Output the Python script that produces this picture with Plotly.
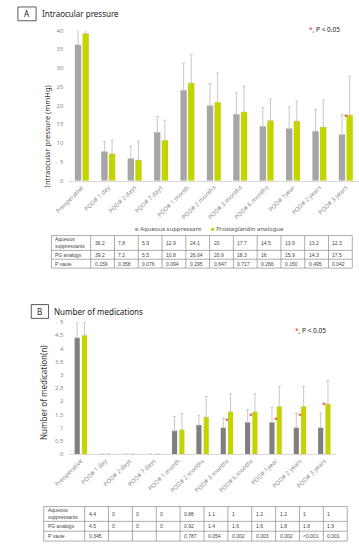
import plotly.graph_objects as go

W, H = 359, 550

categories = ["Preoperative", "POD# 1 day", "POD# 2 days", "POD# 7 days", "POD# 1 month",
              "POD# 2 months", "POD# 3 months", "POD# 6 months", "POD# 1year",
              "POD# 2 years", "POD# 3 years"]

# Panel A: intraocular pressure (mmHg)
iop_aqueous = [36.2, 7.8, 5.9, 12.9, 24.1, 20, 17.7, 14.5, 13.9, 13.2, 12.3]
iop_pg = [39.2, 7.2, 5.5, 10.8, 26.04, 20.9, 18.3, 16, 15.9, 14.3, 17.5]
iop_aqueous_sd = [4.0, 2.7, 3.3, 4.2, 7.2, 5.9, 5.7, 5.0, 5.8, 5.7, 5.3]
iop_pg_sd = [1.1, 3.6, 5.0, 5.3, 7.5, 7.8, 6.9, 5.7, 5.3, 7.2, 10.3]
iop_p = ["0.159", "0.358", "0.076", "0.094", "0.295", "0.647", "0.717", "0.266", "0.150", "0.495", "0.042"]
iop_aqueous_txt = ["36.2", "7.8", "5.9", "12.9", "24.1", "20", "17.7", "14.5", "13.9", "13.2", "12.3"]
iop_pg_txt = ["39.2", "7.2", "5.5", "10.8", "26.04", "20.9", "18.3", "16", "15.9", "14.3", "17.5"]
iop_sig = {"POD# 3 years": 17.7}

# Panel B: number of medications
med_aqueous = [4.4, 0, 0, 0, 0.88, 1.1, 1, 1.2, 1.2, 1, 1]
med_pg = [4.5, 0, 0, 0, 0.92, 1.4, 1.6, 1.6, 1.8, 1.8, 1.9]
med_aqueous_sd = [0.6, None, None, None, 0.54, 0.37, 0.37, 0.48, 0.57, 0.56, 0.56]
med_pg_sd = [0.5, None, None, None, 0.61, 0.78, 0.68, 0.68, 0.77, 0.77, 0.88]
med_p = ["0.345", "", "", "", "0.787", "0.054", "0.002", "0.003", "0.002", "<0.001", "0.001"]
med_aqueous_txt = ["4.4", "0", "0", "0", "0.88", "1.1", "1", "1.2", "1.2", "1", "1"]
med_pg_txt = ["4.5", "0", "0", "0", "0.92", "1.4", "1.6", "1.6", "1.8", "1.8", "1.9"]
med_sig = {"POD# 3 months": 1.33, "POD# 6 months": 1.52, "POD# 1year": 1.4,
           "POD# 2 years": 1.52, "POD# 3 years": 1.95}

row_labels = ["Aqueous<br>suppressants", "PG analogs", "P vaule"]

GREY_A = "#a6a6a6"
GREY_B = "#7f7f7f"
GREEN = "#c3d400"
ERR = "#c8c8c8"
FONT = "Noto Sans"


def px(x):
    return x / W


def py(y):
    return 1 - y / H


fig = go.Figure()


def add_bars(xa, ya, grey, vals_a, vals_p, sd_a, sd_p, w, off):
    fig.add_trace(go.Bar(x=categories, y=vals_a, marker_color=grey, marker_line_width=0,
                         width=w, offset=-off - w / 2, xaxis=xa, yaxis=ya,
                         name="Aqueous suppressant", showlegend=False,
                         error_y=dict(type="data", symmetric=False, array=sd_a,
                                      arrayminus=[0] * len(sd_a), color=ERR,
                                      thickness=1, width=1.5)))
    fig.add_trace(go.Bar(x=categories, y=vals_p, marker_color=GREEN, marker_line_width=0,
                         width=w, offset=off - w / 2, xaxis=xa, yaxis=ya,
                         name="Prostaglandin analogue", showlegend=False,
                         error_y=dict(type="data", symmetric=False, array=sd_p,
                                      arrayminus=[0] * len(sd_p), color=ERR,
                                      thickness=1, width=1.5)))


add_bars("x", "y", GREY_A, iop_aqueous, iop_pg, iop_aqueous_sd, iop_pg_sd, 0.24, 0.145)
add_bars("x2", "y2", GREY_B, med_aqueous, med_pg, med_aqueous_sd, med_pg_sd, 0.21, 0.15)

tickfont = dict(family=FONT, size=6, color="#8c8c8c")
fig.update_layout(
    width=W, height=H, margin=dict(l=0, r=0, t=0, b=0),
    paper_bgcolor="white", plot_bgcolor="white",
    barmode="overlay", showlegend=False,
    xaxis=dict(domain=[px(56), px(359)], tickangle=-45, tickfont=tickfont,
               showline=True, linecolor="#d9d9d9", linewidth=1, showgrid=False,
               ticks="", anchor="y"),
    yaxis=dict(domain=[py(179.3), py(26.9)], range=[0, 40], dtick=5, tickfont=tickfont,
               showgrid=False, zeroline=False, showline=False, ticks="outside",
               ticklen=3, tickcolor="white", anchor="x"),
    xaxis2=dict(domain=[px(56), px(335.5)], tickangle=-45, tickfont=tickfont,
                showline=True, linecolor="#d9d9d9", linewidth=1, showgrid=False,
                ticks="", anchor="y2"),
    yaxis2=dict(domain=[py(456.7), py(322.7)], range=[0, 5], dtick=0.5, tickfont=tickfont,
                showgrid=False, zeroline=False, showline=False, ticks="outside",
                ticklen=3, tickcolor="white", anchor="x2"),
)

ann = []
shapes = []

# panel labels
for (x0, y0, x1, y1, letter, title) in [(3, 3, 22, 17, "A", "Intraocular pressure"),
                                         (17, 305, 35, 319, "B", "Number of medications")]:
    shapes.append(dict(type="rect", xref="paper", yref="paper", x0=px(x0), x1=px(x1),
                       y0=py(y1), y1=py(y0), line=dict(color="#333", width=0.8)))
    ann.append(dict(xref="paper", yref="paper", x=px((x0 + x1) / 2), y=py((y0 + y1) / 2),
                    text=letter, showarrow=False, xanchor="center", yanchor="middle",
                    font=dict(family=FONT, size=8, color="#222")))
    ann.append(dict(xref="paper", yref="paper", x=px(x1 + 4), y=py((y0 + y1) / 2),
                    text=title, showarrow=False, xanchor="left", yanchor="middle",
                    font=dict(family=FONT, size=8, color="#222")))

# axis titles
ann.append(dict(xref="paper", yref="paper", x=px(33), y=py(135), text="Intraocular pressure (mmHg)",
                textangle=-90, showarrow=False, xanchor="center", yanchor="middle",
                font=dict(family=FONT, size=7.5, color="#333")))
ann.append(dict(xref="paper", yref="paper", x=px(30), y=py(394), text="Number of medication(n)",
                textangle=-90, showarrow=False, xanchor="center", yanchor="middle",
                font=dict(family=FONT, size=8, color="#333")))

# significance keys
for (x, y) in [(305, 26), (290, 331)]:
    ann.append(dict(xref="paper", yref="paper", x=px(x), y=py(y),
                    text='<span style="color:#e02020">*</span>, P &lt; 0.05', showarrow=False,
                    xanchor="left", yanchor="middle", font=dict(family=FONT, size=6.5, color="#222")))

# significance marks on bars
for cat, v in iop_sig.items():
    ann.append(dict(xref="x", yref="y", x=cat, y=v, text="*", showarrow=False, yshift=-2,
                    xanchor="center", yanchor="middle", font=dict(size=7, color="#e02020")))
for cat, v in med_sig.items():
    ann.append(dict(xref="x2", yref="y2", x=cat, y=v, text="*", showarrow=False, yshift=-2,
                    xanchor="center", yanchor="middle", font=dict(size=7, color="#e02020")))

# legend (panel A)
ann.append(dict(xref="paper", yref="paper", x=px(123), y=py(228),
                text=f'<span style="color:{GREY_A}">■</span> Aqueous suppressant', showarrow=False,
                xanchor="left", yanchor="middle", font=dict(family=FONT, size=6, color="#555")))
ann.append(dict(xref="paper", yref="paper", x=px(202), y=py(228),
                text=f'<span style="color:{GREEN}">■</span> Prostaglandin analogue', showarrow=False,
                xanchor="left", yanchor="middle", font=dict(family=FONT, size=6, color="#555")))


def add_table(left, first_end, right, rows_y, row1, row2, row3):
    n = len(row1)
    cw = (right - first_end) / n
    cols = [left, first_end] + [first_end + cw * (i + 1) for i in range(n)]
    lc = dict(color="#8a8a8a", width=0.7)
    for yv in rows_y:
        shapes.append(dict(type="line", xref="paper", yref="paper", x0=px(left), x1=px(right),
                           y0=py(yv), y1=py(yv), line=lc))
    for xv in cols:
        shapes.append(dict(type="line", xref="paper", yref="paper", x0=px(xv), x1=px(xv),
                           y0=py(rows_y[0]), y1=py(rows_y[-1]), line=lc))
    tf = dict(family="Liberation Sans", size=5, color="#444")
    for r, vals in enumerate([row1, row2, row3]):
        yc = (rows_y[r] + rows_y[r + 1]) / 2
        ann.append(dict(xref="paper", yref="paper", x=px(left + 2), y=py(yc), text=row_labels[r],
                        showarrow=False, xanchor="left", yanchor="middle", align="left", font=tf))
        for i, v in enumerate(vals):
            ann.append(dict(xref="paper", yref="paper", x=px(cols[i + 1] + 2), y=py(yc), text=v,
                            showarrow=False, xanchor="left", yanchor="middle", font=tf))


add_table(38, 79, 352, [235, 250, 259, 268], iop_aqueous_txt, iop_pg_txt, iop_p)
add_table(30, 72.7, 346.7, [510, 525, 535, 545], med_aqueous_txt, med_pg_txt, med_p)

fig.update_layout(annotations=ann, shapes=shapes)
fig.write_html("out.html", config={"displayModeBar": False},
               post_script="document.body.style.margin='0';document.body.style.overflow='hidden';")
